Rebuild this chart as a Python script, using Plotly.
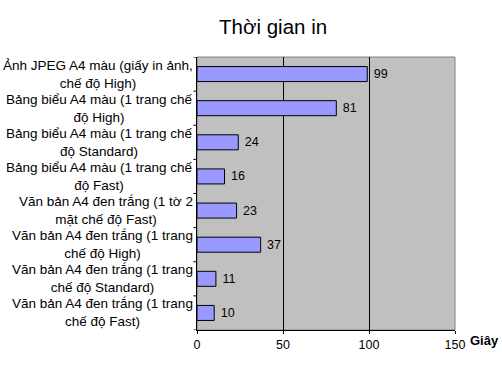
import plotly.graph_objects as go

categories = [
    "Ảnh JPEG A4 màu (giấy in ảnh,<br>chế độ High)",
    "Bảng biểu A4 màu (1 trang chế<br>độ High)",
    "Bảng biểu A4 màu (1 trang chế<br>độ Standard)",
    "Bảng biểu A4 màu (1 trang chế<br>độ Fast)",
    "Văn bản A4 đen trắng (1 tờ 2<br>mặt chế độ Fast)",
    "Văn bản A4 đen trắng (1 trang<br>chế độ High)",
    "Văn bản A4 đen trắng (1 trang<br>chế độ Standard)",
    "Văn bản A4 đen trắng (1 trang<br>chế độ Fast)",
]
values = [99, 81, 24, 16, 23, 37, 11, 10]
x_ticks = [0, 50, 100, 150]

font = "Liberation Sans, Arial, sans-serif"
fs = 13.5

fig = go.Figure(go.Bar(
    y=list(range(len(categories))), x=values, orientation="h",
    marker=dict(color="#9999FF", line=dict(color="black", width=1)),
    width=0.44,
    text=["\u00a0" + str(v) for v in values], textposition="outside",
    textfont=dict(family=font, size=12.5, color="black"),
    cliponaxis=False,
    hoverinfo="skip",
))

annotations = [
    dict(x=0, xref="paper", y=i, yref="y", text=c, showarrow=False,
         xanchor="right", align="center", xshift=-2,
         font=dict(family=font, size=fs, color="black"))
    for i, c in enumerate(categories)
]
annotations.append(dict(x=1, xref="paper", y=0, yref="paper", text="<b>Giây</b>",
                        showarrow=False, xanchor="left", yanchor="middle",
                        xshift=13, yshift=-10,
                        font=dict(family=font, size=13, color="black")))

fig.update_layout(
    width=502, height=389,
    margin=dict(l=197, r=47, t=57, b=59),
    paper_bgcolor="white", plot_bgcolor="#C0C0C0",
    title=dict(text="Thời gian in", x=0.544, xanchor="center", y=0.95, yanchor="top",
               font=dict(family=font, size=20.5, color="black")),
    showlegend=False,
    xaxis=dict(range=[0, 150], tickvals=x_ticks, showgrid=True, gridcolor="black",
               gridwidth=1, zeroline=False, showline=True, linecolor="black", linewidth=1,
               ticks="outside", ticklen=3, tickcolor="black",
               tickfont=dict(family=font, size=12.5, color="black")),
    yaxis=dict(range=[len(categories) - 0.5, -0.5], tickvals=list(range(len(categories))),
               showgrid=False, zeroline=False,
               showline=True, linecolor="black", linewidth=1,
               showticklabels=False),
    annotations=annotations,
    shapes=[dict(type="rect", xref="paper", yref="paper", x0=0, x1=1, y0=0, y1=1,
                 line=dict(color="#808080", width=1), layer="below")],
)

# boundary ticks on y axis
for b in range(len(categories) + 1):
    fig.add_shape(type="line", xref="paper", yref="y", x0=-0.014, x1=0,
                  y0=b - 0.5, y1=b - 0.5, line=dict(color="black", width=1))

fig.write_html("out.html", config={"displayModeBar": False, "staticPlot": True},
               post_script="document.body.style.margin='0';document.body.style.overflow='hidden';")
